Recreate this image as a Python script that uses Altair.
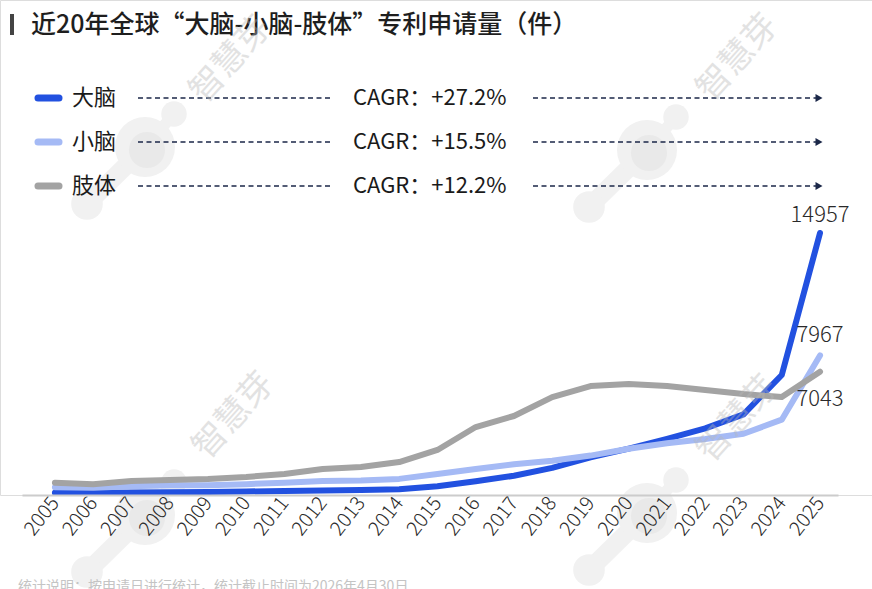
import altair as alt
import pandas as pd

# ---- data -----------------------------------------------------------------
years = list(range(2005, 2026))
series_names = ["大脑", "小脑", "肢体"]
cagr_labels = ["CAGR：+27.2%", "CAGR：+15.5%", "CAGR：+12.2%"]

brain = [122, 130, 140, 150, 170, 200, 230, 260, 290, 330, 500,
         780, 1100, 1550, 2150, 2650, 3200, 3800, 4600, 6850, 14957]
cerebellum = [448, 420, 500, 550, 560, 620, 700, 800, 830, 920, 1200,
              1480, 1750, 1950, 2250, 2640, 2950, 3200, 3500, 4300, 7967]
limb = [700, 620, 800, 860, 910, 1030, 1200, 1480, 1600, 1880, 2570,
        3880, 4510, 5590, 6220, 6340, 6220, 5990, 5760, 5590, 7043]

colors = ["#2251e0", "#a5baf5", "#a3a3a3"]
FONT = "Noto Sans CJK SC"

rows = []
for name, vals in zip(series_names, [brain, cerebellum, limb]):
    for yr, v in zip(years, vals):
        rows.append({"year": yr, "series": name, "value": v})
df = pd.DataFrame(rows)
last = df[df["year"] == years[-1]].copy()
legend_df = pd.DataFrame({"series": series_names, "cagr": cagr_labels})

W, H = 872, 495
x_scale = alt.Scale(domain=[2004.14, 2025.47], range=[22, 838], nice=False, zero=False)
y_scale = alt.Scale(domain=[0, 28260], nice=False, zero=True)
color_scale = alt.Scale(domain=series_names, range=colors)
row_scale = alt.Scale(type="point", domain=series_names, range=[98, 186], padding=0)

# ---- background brand marks (pixel placed) -------------------------------
logo_centres = [(145, 147), (647, 150), (145, 515), (647, 513)]
logo_parts = []
for cx, cy in logo_centres:
    logo_parts += [
        {"px": cx, "py": cy, "s": 3600, "c": "#f1f1f1"},
        {"px": cx + 29, "py": cy - 33, "s": 650, "c": "#f1f1f1"},
        {"px": cx - 58, "py": cy + 57, "s": 1000, "c": "#f1f1f1"},
        {"px": cx + 2, "py": cy + 3, "s": 1300, "c": "#e9e9e9"},
    ]
necks = []
for cx, cy in logo_centres:
    necks += [
        {"px": cx, "py": cy, "px2": cx + 29, "py2": cy - 33, "w": 11},
        {"px": cx, "py": cy, "px2": cx - 58, "py2": cy + 57, "w": 18},
    ]
logo_df = pd.DataFrame(logo_parts)
neck_df = pd.DataFrame(necks)

neck = alt.Chart(neck_df).mark_rule(color="#f1f1f1", strokeCap="round").encode(
    x=alt.X("px:Q", scale=None), y=alt.Y("py:Q", scale=None),
    x2="px2:Q", y2="py2:Q", strokeWidth=alt.StrokeWidth("w:Q", scale=None),
)
logo = alt.Chart(logo_df).mark_point(shape="circle", filled=True, opacity=1).encode(
    x=alt.X("px:Q", scale=None), y=alt.Y("py:Q", scale=None),
    size=alt.Size("s:Q", scale=None), color=alt.Color("c:N", scale=None),
)

# ---- series ---------------------------------------------------------------
lines = alt.Chart(df).mark_line(strokeWidth=6, strokeCap="round", strokeJoin="round").encode(
    x=alt.X("year:Q", scale=x_scale,
            axis=alt.Axis(values=years, format="d", title=None, grid=False, ticks=False,
                          domainColor="#cccccc", domainWidth=2, labelAngle=-52,
                          labelFont=FONT, labelFontSize=20, labelColor="#2a2a2a",
                          labelFontWeight=300, labelPadding=4, labelOverlap=False,
                          labelBound=False, zindex=1)),
    y=alt.Y("value:Q", scale=y_scale, axis=None),
    color=alt.Color("series:N", scale=color_scale, legend=None),
    order=alt.Order("year:Q"),
)

# value labels at the series ends
end_pos = {"大脑": ("bottom", -6), "小脑": ("bottom", -8), "肢体": ("top", 17)}
end_layers = []
for name in series_names:
    bl, dy = end_pos[name]
    end_layers.append(
        alt.Chart(last[last["series"] == name]).mark_text(
            font=FONT, fontSize=22, fontWeight=300, color="#2a2a2a",
            align="center", baseline=bl, dy=dy
        ).encode(
            x=alt.X("year:Q", scale=x_scale, axis=None),
            y=alt.Y("value:Q", scale=y_scale, axis=None),
            text=alt.Text("value:Q", format="d"),
        )
    )

# ---- legend rows ----------------------------------------------------------
leg = alt.Chart(legend_df)
leg_y = alt.Y("series:N", scale=row_scale, axis=None)
swatch = leg.mark_rule(strokeWidth=7, strokeCap="round").encode(
    x=alt.value(38), x2=alt.value(59), y=leg_y,
    color=alt.Color("series:N", scale=color_scale, legend=None),
)
leg_name = leg.mark_text(font=FONT, fontSize=22, color="#1a1a1a", align="left",
                         baseline="middle").encode(x=alt.value(72), y=leg_y, text="series:N")
dash1 = leg.mark_rule(strokeWidth=1.5, strokeDash=[5, 3.5], color="#1b2748").encode(
    x=alt.value(138), x2=alt.value(333), y=leg_y)
leg_cagr = leg.mark_text(font=FONT, fontSize=22, color="#1a1a1a", align="left",
                         baseline="middle").encode(x=alt.value(353), y=leg_y, text="cagr:N")
dash2 = leg.mark_rule(strokeWidth=1.5, strokeDash=[5, 3.5], color="#1b2748").encode(
    x=alt.value(533), x2=alt.value(816), y=leg_y)
arrow = leg.mark_point(shape="triangle-right", filled=True, size=65, color="#1b2748",
                       opacity=1).encode(x=alt.value(819), y=leg_y)

# ---- title, watermark text, footnote -------------------------------------
deco = alt.Chart(pd.DataFrame({"k": [0]}))
title_bar = deco.mark_rule(strokeWidth=4, color="#444444").encode(
    x=alt.value(12), y=alt.value(14), y2=alt.value(35))
title = deco.mark_text(font=FONT, fontSize=25, fontWeight=500, color="#1e1e1e",
                       align="left", baseline="middle").encode(
    x=alt.value(31), y=alt.value(25),
    text=alt.value("近20年全球“大脑-小脑-肢体”专利申请量（件）"))
footnote = deco.mark_text(font=FONT, fontSize=14, color="#c4c4c4", align="left",
                          baseline="top").encode(
    x=alt.value(18), y=alt.value(580),
    text=alt.value("统计说明：按申请日进行统计，统计截止时间为2026年4月30日"))

wm_df = pd.DataFrame({"wx": [231, 738, 234, 738], "wy": [60, 58, 416, 419]})
watermark = alt.Chart(wm_df).mark_text(
    font=FONT, fontSize=34, fontWeight=400, color="#b8b8b8", opacity=0.4,
    angle=312, align="center", baseline="middle"
).encode(x=alt.X("wx:Q", scale=None), y=alt.Y("wy:Q", scale=None),
         text=alt.value("智慧芽"))

chart = alt.layer(
    neck, logo, lines, *end_layers,
    swatch, leg_name, dash1, leg_cagr, dash2, arrow,
    title_bar, title, footnote, watermark,
).resolve_scale(x="independent", y="independent").properties(
    width=W, height=H,
    autosize=alt.AutoSizeParams(type="none"),
    padding={"left": 0, "top": 0, "right": 0, "bottom": 94},
).configure_view(stroke=None).configure(background="white")

chart.save("out.html", embed_options={"renderer": "svg", "actions": False})
